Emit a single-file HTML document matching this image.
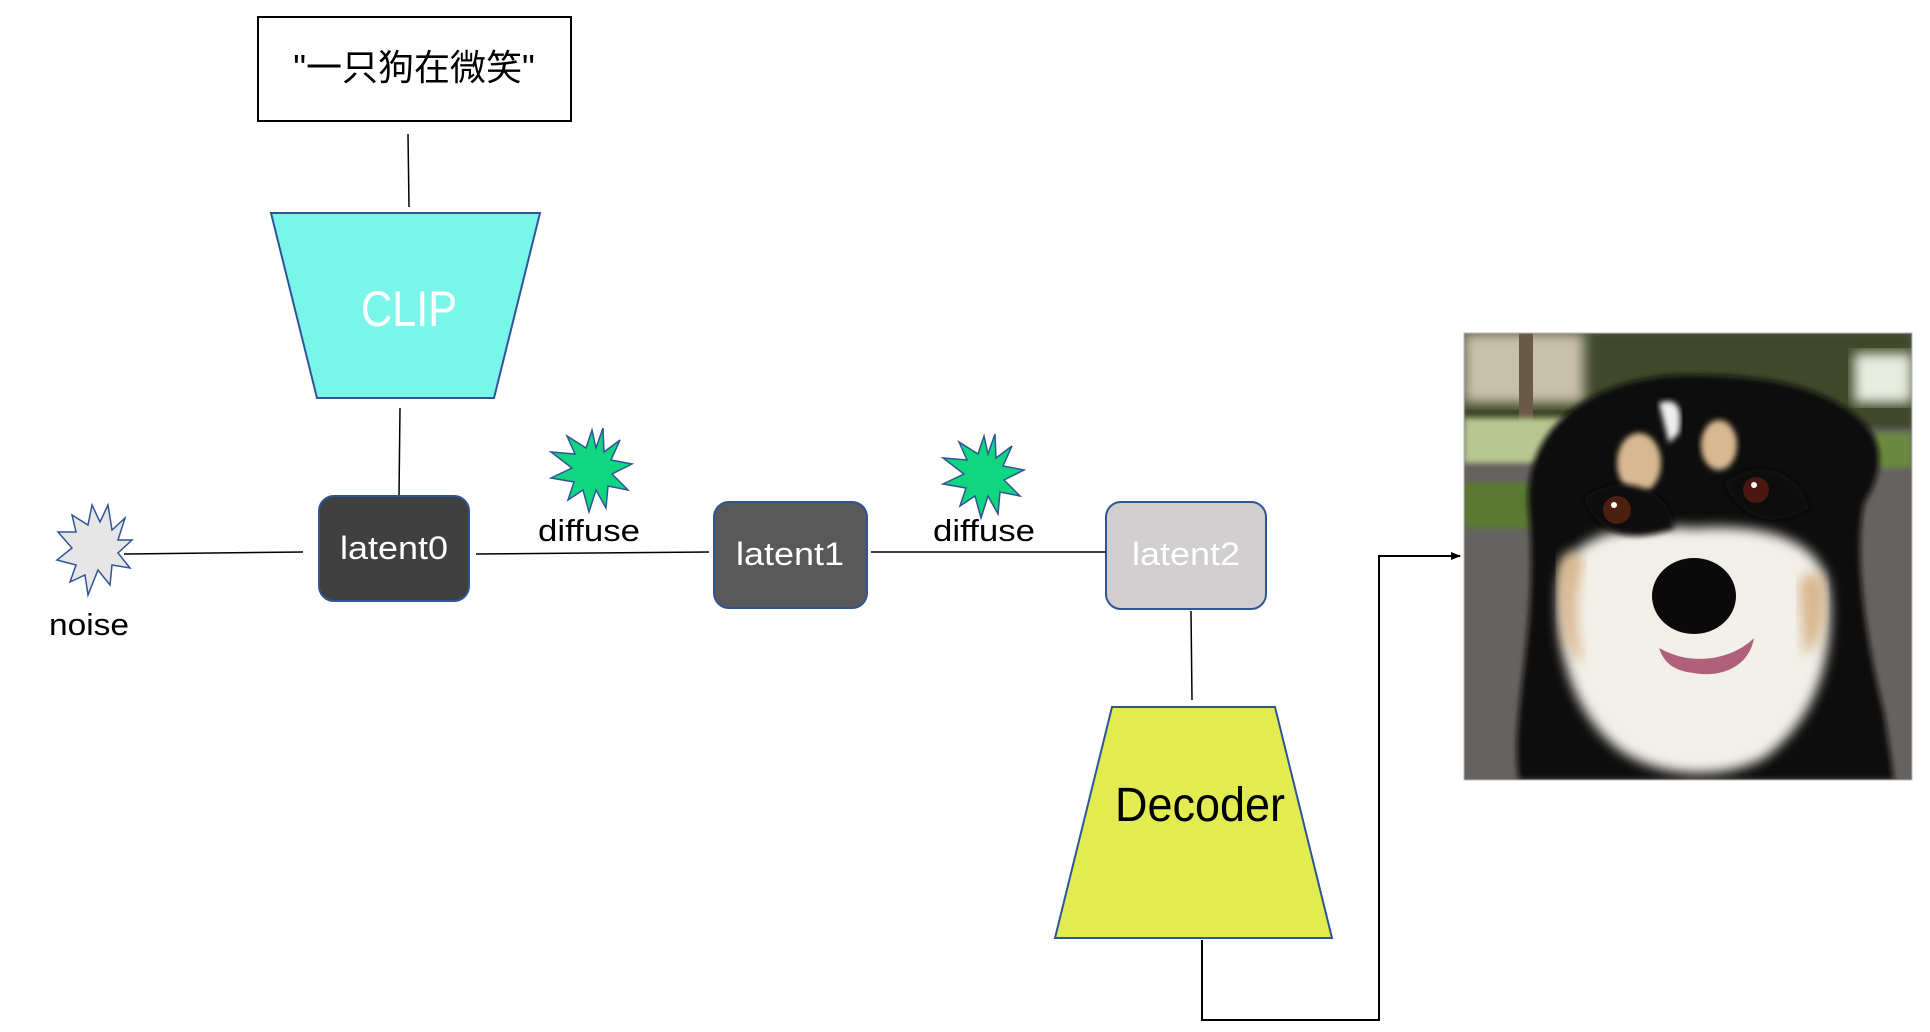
<!DOCTYPE html>
<html><head><meta charset="utf-8"><style>
html,body{margin:0;padding:0;background:#fff;width:1930px;height:1032px;overflow:hidden}
svg{display:block}
text{font-family:"Liberation Sans","Noto Sans CJK SC",sans-serif}
</style></head><body>
<svg width="1930" height="1032" viewBox="0 0 1930 1032" xmlns="http://www.w3.org/2000/svg">
<defs>
<marker id="ah" markerWidth="10" markerHeight="10" refX="9" refY="5" orient="auto" markerUnits="userSpaceOnUse"><path d="M0,1 L10,5 L0,9 z" fill="#000"/></marker>
<filter id="bl"><feGaussianBlur stdDeviation="6"/></filter>
<filter id="bl2"><feGaussianBlur stdDeviation="3"/></filter>
<clipPath id="ic"><rect x="0" y="0" width="448" height="447"/></clipPath>
</defs>
<rect x="258" y="17" width="313" height="104" fill="#fff" stroke="#000" stroke-width="2"/>
<text x="414" y="80" font-size="36" text-anchor="middle" fill="#000">"一只狗在微笑"</text>
<line x1="408" y1="134" x2="409" y2="207" stroke="#000" stroke-width="1.5"/>
<polygon points="271,213 540,213 494,398 317,398" fill="#7af5ea" stroke="#2f5597" stroke-width="2"/>
<text x="409" y="326" font-size="50" text-anchor="middle" fill="#fff" textLength="96" lengthAdjust="spacingAndGlyphs">CLIP</text>
<line x1="400" y1="408" x2="399" y2="496" stroke="#000" stroke-width="1.5"/>
<rect x="319" y="496" width="150" height="105" rx="15" fill="#404040" stroke="#2f5597" stroke-width="2"/>
<text x="394" y="559" font-size="32" text-anchor="middle" fill="#fff" textLength="108" lengthAdjust="spacingAndGlyphs">latent0</text>
<rect x="714" y="502" width="153" height="106" rx="15" fill="#595959" stroke="#2f5597" stroke-width="2"/>
<text x="790" y="565" font-size="32" text-anchor="middle" fill="#fff" textLength="108" lengthAdjust="spacingAndGlyphs">latent1</text>
<rect x="1106" y="502" width="160" height="107" rx="15" fill="#d0cece" stroke="#2f5597" stroke-width="2"/>
<text x="1186" y="565" font-size="32" text-anchor="middle" fill="#fff" textLength="108" lengthAdjust="spacingAndGlyphs">latent2</text>
<line x1="124" y1="554" x2="303" y2="552" stroke="#000" stroke-width="1.5"/>
<line x1="476" y1="554" x2="709" y2="552" stroke="#000" stroke-width="1.5"/>
<line x1="871" y1="552" x2="1106" y2="552" stroke="#000" stroke-width="1.5"/>
<line x1="1191" y1="611" x2="1192" y2="700" stroke="#000" stroke-width="1.5"/>
<polygon points="108,505 112,530 125,518 118,540 132,540 118,553 130,568 112,565 110,585 98,570 88,595 85,575 70,582 76,565 57,560 72,548 58,532 76,532 72,515 88,525 92,505 100,522" fill="#e6e6e6" stroke="#2f5597" stroke-width="1.5"/>
<text x="89" y="635" font-size="31" text-anchor="middle" fill="#000" textLength="80" lengthAdjust="spacingAndGlyphs">noise</text>
<polygon points="603,428 604,452 620,440 611,460 632,464 612,474 628,490 608,486 606,508 596,490 589,512 583,490 568,500 574,482 551,478 572,468 551,452 575,454 567,436 586,448 592,430 596,448" fill="#10d67f" stroke="#2f5597" stroke-width="1.5"/>
<text x="589" y="541" font-size="31" text-anchor="middle" fill="#000" textLength="102" lengthAdjust="spacingAndGlyphs">diffuse</text>
<polygon points="995,434 996,458 1012,446 1003,466 1024,470 1004,480 1020,496 1000,492 998,514 988,496 981,518 975,496 960,506 966,488 943,484 964,474 943,458 967,460 959,442 978,454 984,436 988,454" fill="#10d67f" stroke="#2f5597" stroke-width="1.5"/>
<text x="984" y="541" font-size="31" text-anchor="middle" fill="#000" textLength="102" lengthAdjust="spacingAndGlyphs">diffuse</text>
<polygon points="1112,707 1275,707 1332,938 1055,938" fill="#e2ec50" stroke="#2f5597" stroke-width="2"/>
<text x="1200" y="821" font-size="48" text-anchor="middle" fill="#000" textLength="170" lengthAdjust="spacingAndGlyphs">Decoder</text>
<polyline points="1202,940 1202,1020 1379,1020 1379,556 1460,556" fill="none" stroke="#000" stroke-width="2" marker-end="url(#ah)"/>
<g transform="translate(1464,333)" clip-path="url(#ic)">
<rect width="448" height="447" fill="#66625f"/>
<rect width="448" height="95" fill="#3f4a2a" filter="url(#bl2)"/>
<rect x="0" y="0" width="120" height="70" fill="#c8c0a8" filter="url(#bl)"/>
<rect x="390" y="20" width="58" height="50" fill="#e8ece0" filter="url(#bl)"/>
<rect x="55" y="0" width="14" height="90" fill="#6a5a45"/>
<rect x="0" y="85" width="130" height="45" fill="#b8c690" filter="url(#bl2)"/>
<rect x="0" y="150" width="80" height="45" fill="#5a7a30" filter="url(#bl2)"/>
<rect x="410" y="100" width="38" height="35" fill="#6a8a40" filter="url(#bl2)"/>
<path d="M65,180 C55,80 150,40 230,42 C320,42 370,60 400,90 C420,110 420,140 400,170 C390,220 400,300 420,380 L430,447 L55,447 C45,380 75,300 65,180 Z" fill="#111" filter="url(#bl2)"/>
<path d="M95,250 C105,200 160,190 230,195 C300,190 360,205 365,260 C370,320 355,385 300,425 C260,447 200,445 160,420 C110,385 90,320 95,250 Z" fill="#f2efe8" filter="url(#bl)"/>
<path d="M95,250 C90,220 110,210 120,230 C110,260 110,300 120,330 C100,320 95,290 95,250 Z" fill="#d8b890" filter="url(#bl)"/>
<path d="M335,250 C350,230 365,240 362,270 C360,300 350,320 340,320 Z" fill="#d8b890" filter="url(#bl)"/>
<path d="M195,70 C210,65 220,70 215,100 L205,110 Z" fill="#eee" filter="url(#bl2)"/>
<ellipse cx="175" cy="130" rx="22" ry="30" fill="#d8b890" filter="url(#bl2)"/>
<ellipse cx="255" cy="112" rx="18" ry="25" fill="#d8b890" filter="url(#bl2)"/>
<path d="M120,165 C150,140 205,150 210,195 C170,210 135,205 120,165 Z" fill="#111" filter="url(#bl2)"/>
<path d="M260,150 C290,125 335,135 345,175 C310,195 280,190 260,150 Z" fill="#111" filter="url(#bl2)"/>
<circle cx="153" cy="177" r="14" fill="#4a2010"/>
<circle cx="150" cy="172" r="3" fill="#fff"/>
<circle cx="292" cy="157" r="13" fill="#4a1810"/>
<circle cx="290" cy="152" r="3" fill="#fff"/>
<ellipse cx="230" cy="263" rx="42" ry="38" fill="#0a0a0a"/>
<path d="M195,315 C230,335 270,325 290,305 C285,335 255,345 230,340 C210,338 200,330 195,315 Z" fill="#b0607a"/>
</g>
<rect x="1464" y="333" width="448" height="447" fill="none" stroke="#bbb" stroke-width="1"/>
</svg>
</body></html>
